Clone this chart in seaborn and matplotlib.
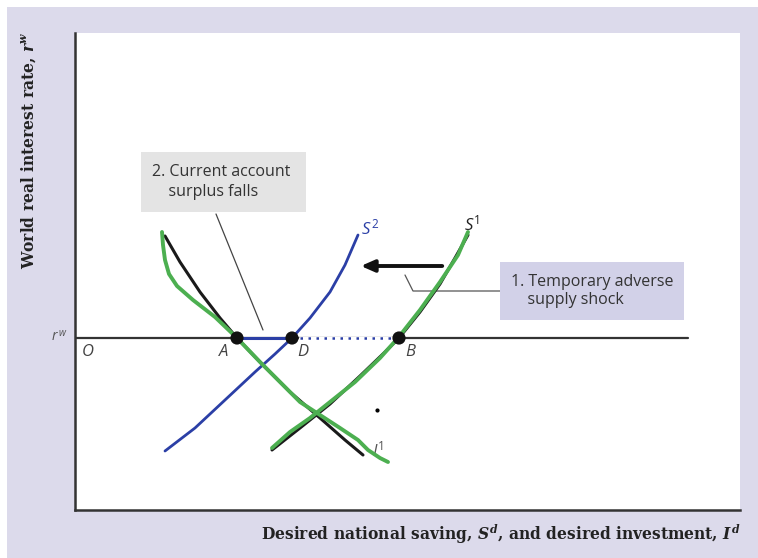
import matplotlib.pyplot as plt
from matplotlib.patches import Rectangle
import seaborn as sns

# curve points (x: saving/investment, y: interest rate)
i1_x = [90, 105, 125, 145, 162, 185, 215, 245, 270, 288]
i1_y = [274, 248, 218, 192, 172, 148, 118, 92, 70, 55]
s1_x = [197, 225, 255, 285, 310, 324, 345, 365, 380, 393]
s1_y = [60, 82, 106, 134, 158, 172, 198, 226, 252, 275]
s2_x = [90, 120, 150, 180, 200, 217, 235, 255, 270, 283]
s2_y = [59, 82, 110, 138, 156, 172, 192, 218, 245, 275]

# hand-drawn green strokes over the curves
g1_x = [87, 88, 90, 94, 102, 118, 140, 162, 185, 205, 225, 245, 265, 283, 293, 305, 313]
g1_y = [278, 265, 250, 236, 224, 210, 193, 172, 148, 128, 108, 95, 82, 70, 60, 52, 48]
g2_x = [197, 215, 235, 255, 280, 305, 323, 345, 365, 383, 393]
g2_y = [62, 78, 92, 108, 128, 152, 172, 200, 228, 255, 278]

rw = 172
pt_names = ['A', 'D', 'B']
pt_x = [162, 217, 324]

lav = '#DCDAEB'
blue = '#2B3FA6'
green = '#4CAF50'

sns.set_style('white')
plt.rcParams['mathtext.fontset'] = 'custom'
plt.rcParams['mathtext.it'] = 'DejaVu Serif:italic:bold'
plt.rcParams['mathtext.rm'] = 'DejaVu Serif:bold'

fig = plt.figure(figsize=(7.58, 5.58), dpi=100, facecolor='white')
fig.patches.append(Rectangle((7 / 758, 0), 751 / 758, 551 / 558, transform=fig.transFigure,
                             fc=lav, ec='none', zorder=-10))
ax = fig.add_axes([75 / 758, 48 / 558, 665 / 758, 477 / 558])
ax.set_facecolor('white')
ax.set_xlim(0, 665)
ax.set_ylim(0, 477)

# world real interest rate line
ax.plot([0, 613], [rw, rw], color='#333333', lw=1.6, zorder=2)
ax.plot([pt_x[0], pt_x[1]], [rw, rw], color=blue, lw=2.2, zorder=3)
ax.plot([pt_x[1] + 8, pt_x[2] - 6], [rw, rw], color='white', lw=2.4, zorder=3)
ax.plot([pt_x[1], pt_x[2]], [rw, rw], color=blue, lw=1.8, ls=(0, (1, 2.2)), zorder=3)

sns.lineplot(x=s2_x, y=s2_y, sort=False, estimator=None, color=blue, lw=2.0, ax=ax, zorder=3)
sns.lineplot(x=i1_x, y=i1_y, sort=False, estimator=None, color='#1a1a1a', lw=2.2, ax=ax, zorder=3)
sns.lineplot(x=s1_x, y=s1_y, sort=False, estimator=None, color='#1a1a1a', lw=2.2, ax=ax, zorder=3)
sns.lineplot(x=g1_x, y=g1_y, sort=False, estimator=None, color=green, lw=2.8, ax=ax, zorder=4)
sns.lineplot(x=g2_x, y=g2_y, sort=False, estimator=None, color=green, lw=2.8, ax=ax, zorder=4)

sns.scatterplot(x=pt_x, y=[rw] * 3, s=90, color='#111111', edgecolor='none', ax=ax, zorder=5)
ax.plot([302], [100], marker='o', ms=2, color='black')

lab = dict(fontsize=12, style='italic', color='#444444', family='Open Sans')
ax.text(13, rw - 6, 'O', ha='center', va='top', **lab)
for n, x in zip(pt_names, pt_x):
    dx = -13 if n == 'A' else 11
    ax.text(x + dx, rw - 6, n, ha='center', va='top', **lab)
ax.text(-23, rw + 1, 'r', ha='left', va='center', fontsize=10, style='italic',
        color='#555555', family='Open Sans', clip_on=False)
ax.text(-17, rw + 5, 'w', ha='left', va='center', fontsize=7, style='italic',
        color='#555555', family='Open Sans', clip_on=False)


def sup_label(x, y, base, sup, color):
    # base letter plus its superscript, drawn as two texts
    ax.text(x, y, base, color=color, fontsize=12, style='italic', family='Open Sans',
            ha='right', va='bottom')
    ax.text(x + 1, y + 7, sup, color=color, fontsize=8.5, family='Open Sans',
            ha='left', va='bottom')


sup_label(295, 272, 'S', '2', blue)
sup_label(398, 276, 'S', '1', '#222222')
sup_label(302, 50, 'I', '1', '#555555')

# shift arrow
ax.annotate('', xy=(283, 244), xytext=(370, 244),
            arrowprops=dict(arrowstyle='-|>,head_length=0.8,head_width=0.35', color='#111111', lw=2.8))

# callout 1
ax.add_patch(Rectangle((425, 190), 184, 58, fc='#D2D1E8', ec='none', zorder=5))
ax.text(436, 219, '1. Temporary adverse\n    supply shock', fontsize=11.5, family='Open Sans',
        color='#333333', ha='left', va='center', linespacing=1.25, zorder=6)
ax.plot([425, 338, 330], [219, 219, 235], color='#555555', lw=0.9)

# callout 2
ax.add_patch(Rectangle((66, 298), 165, 60, fc='#E4E4E4', ec='none', zorder=5))
ax.text(77, 328, '2. Current account\n    surplus falls', fontsize=11.5, family='Open Sans',
        color='#333333', ha='left', va='center', linespacing=1.25, zorder=6)
ax.plot([141, 188], [296, 180], color='#444444', lw=0.9)

for s in ['top', 'right']:
    ax.spines[s].set_visible(False)
for s in ['left', 'bottom']:
    ax.spines[s].set_color('#333333')
    ax.spines[s].set_linewidth(1.8)
ax.set_xticks([])
ax.set_yticks([])

ax.set_xlabel('Desired national saving, $S^d$, and desired investment, $I^d$',
              fontsize=11.2, fontweight='bold', family='DejaVu Serif', color='#222222', loc='right', labelpad=9)
ax.set_ylabel('World real interest rate, $r^w$', fontsize=11.2, fontweight='bold',
              family='DejaVu Serif', color='#222222', labelpad=30)
ax.yaxis.set_label_coords(-0.056, 0.755)

fig.savefig('out.png', dpi=100)
